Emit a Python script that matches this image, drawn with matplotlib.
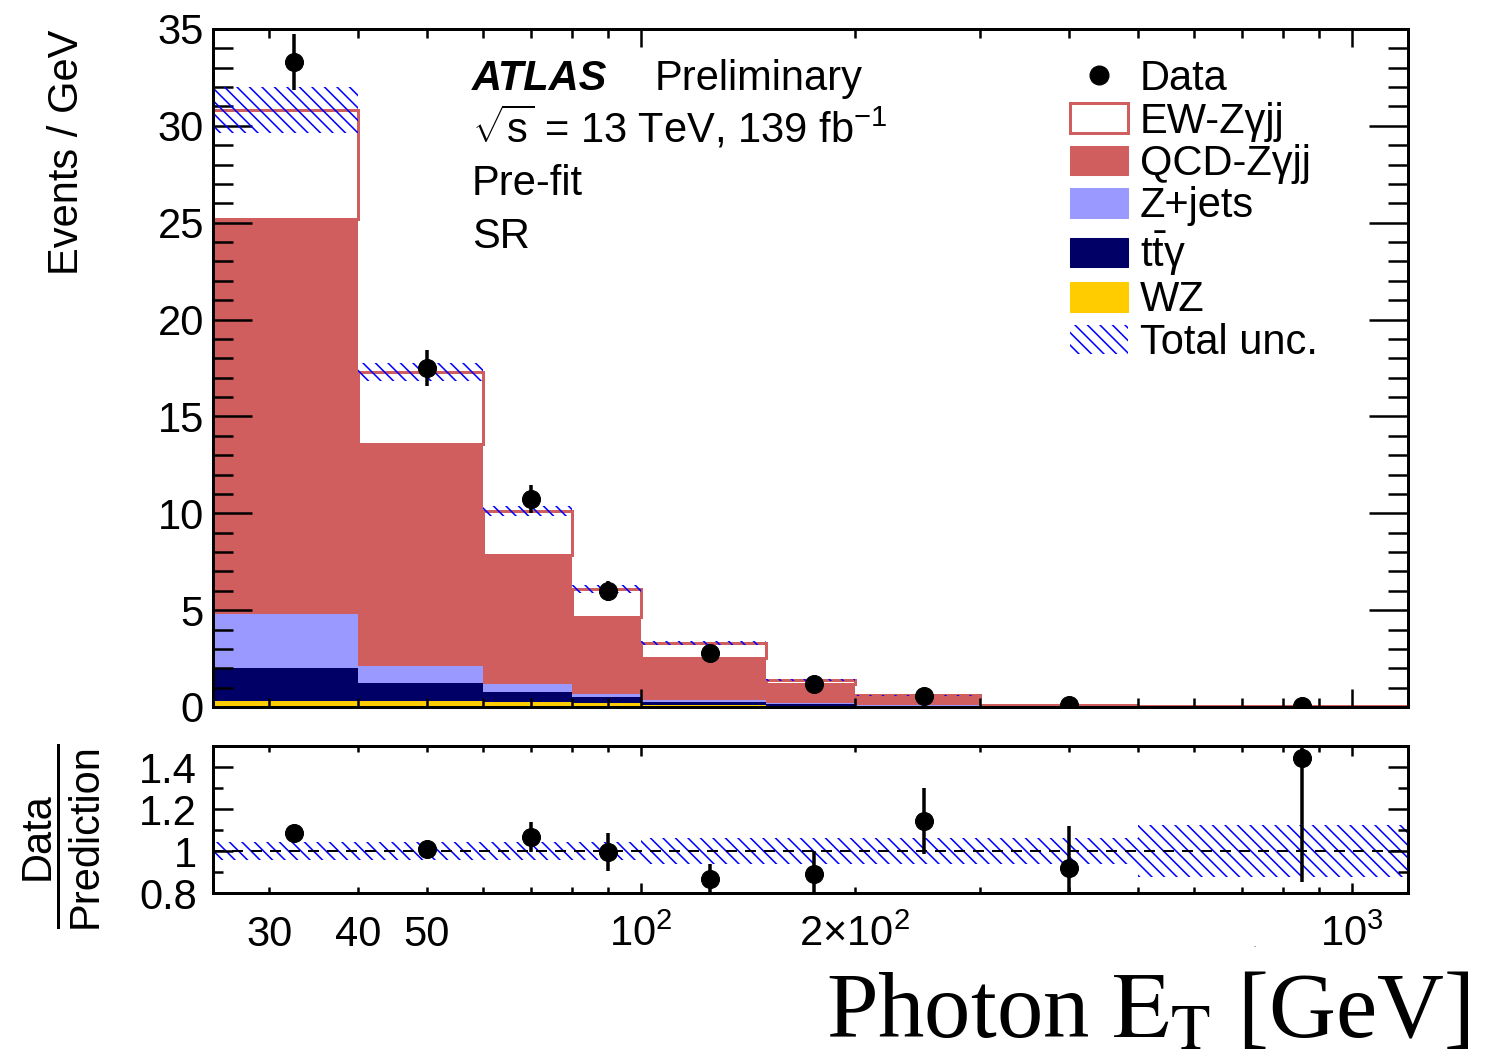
import numpy as np
import matplotlib
matplotlib.use('Agg')
import matplotlib.pyplot as plt
import matplotlib.ticker as mticker
from matplotlib.patches import Patch
from matplotlib.lines import Line2D

plt.rcParams['font.family'] = ['Liberation Sans', 'DejaVu Sans']
plt.rcParams['mathtext.fontset'] = 'custom'
plt.rcParams['mathtext.rm'] = 'Liberation Sans'
plt.rcParams['mathtext.it'] = 'Liberation Sans:italic'
plt.rcParams['mathtext.bf'] = 'Liberation Sans:bold'
plt.rcParams['hatch.linewidth'] = 1.5

DPI = 75
W, H = 1495, 1059


def px(v):
    # pixel -> points at this dpi
    return v * 72.0 / DPI


# ---- data ----
edges = [25, 40, 60, 80, 100, 150, 200, 300, 500, 1200]
bin_x = [32.5, 50, 70, 90, 125, 175, 250, 400, 850]

wz = [0.30, 0.30, 0.25, 0.20, 0.12, 0.06, 0.03, 0.010, 0.003]
ttgamma = [1.72, 0.96, 0.51, 0.30, 0.16, 0.10, 0.04, 0.010, 0.003]
zjets = [2.80, 0.84, 0.45, 0.19, 0.10, 0.05, 0.02, 0.005, 0.002]
qcd = [20.37, 11.50, 6.63, 3.96, 2.15, 1.00, 0.41, 0.055, 0.017]
ew = [5.63, 3.69, 2.26, 1.46, 0.77, 0.20, 0.10, 0.020, 0.005]
total_unc = [1.20, 0.45, 0.26, 0.20, 0.12, 0.06, 0.03, 0.006, 0.004]

data = [33.3, 17.5, 10.73, 5.98, 2.79, 1.19, 0.55, 0.09, 0.03]
data_err = [1.45, 0.92, 0.72, 0.50, 0.24, 0.15, 0.07, 0.02, 0.007]

ratio = [1.085, 1.01, 1.067, 0.995, 0.865, 0.892, 1.143, 0.919, 1.444]
ratio_err = [0.04, 0.035, 0.07, 0.09, 0.075, 0.11, 0.155, 0.20, 0.59]
ratio_unc = [0.044, 0.044, 0.044, 0.044, 0.06, 0.06, 0.06, 0.06, 0.125]

xtick_pos = [30, 40, 50, 100, 200, 1000]
xtick_labels = ['30', '40', '50', r'$10^{2}$', r'$2{\times}10^{2}$', r'$10^{3}$']

red = '#d05e5e'
colors = {'WZ': '#ffcc00', 'tty': '#000066', 'zjets': '#9999ff', 'qcd': red}

FS = 40
HATCH = '\\\\'

fig = plt.figure(figsize=(W / DPI, H / DPI), dpi=DPI)
ax = fig.add_axes([213 / W, 1 - 707 / H, 1195 / W, 678 / H])
rax = fig.add_axes([213 / W, 1 - 893 / H, 1195 / W, 147 / H])

left = np.array(edges[:-1], dtype=float)
width = np.diff(edges)

# stacked backgrounds
bottom = np.zeros(len(left))
for vals, c in [(wz, colors['WZ']), (ttgamma, colors['tty']), (zjets, colors['zjets']), (qcd, colors['qcd'])]:
    ax.bar(left, vals, width=width, bottom=bottom, align='edge', color=c, lw=0, zorder=1)
    bottom = bottom + np.array(vals)
ax.bar(left, ew, width=width, bottom=bottom, align='edge', facecolor='white', edgecolor=red,
       lw=px(3), zorder=1.5)
total = bottom + np.array(ew)

# total uncertainty
unc = np.array(total_unc)
ax.bar(left, 2 * unc, width=width, bottom=total - unc, align='edge', facecolor='none',
       edgecolor='blue', hatch=HATCH, lw=0, zorder=2)

ax.errorbar(bin_x, data, yerr=data_err, fmt='o', color='k', ms=px(18), elinewidth=px(3.5),
            capsize=0, zorder=3)

# ratio panel
runc = np.array(ratio_unc)
rax.bar(left, 2 * runc, width=width, bottom=1 - runc, align='edge', facecolor='none',
        edgecolor='blue', hatch=HATCH, lw=0, zorder=1)
rax.axhline(1, color='k', lw=px(2), ls=(0, (5.5, 4)), zorder=2)
rax.errorbar(bin_x, ratio, yerr=ratio_err, fmt='o', color='k', ms=px(18), elinewidth=px(3.5),
             capsize=0, zorder=3)

# axes styling
for a in (ax, rax):
    a.set_xscale('log')
    a.set_xlim(25, 1200)
    a.xaxis.set_major_locator(mticker.FixedLocator([100, 1000]))
    a.xaxis.set_minor_locator(mticker.FixedLocator([30, 40, 50, 60, 70, 80, 90,
                                                    200, 300, 400, 500, 600, 700, 800, 900]))
    a.xaxis.set_major_formatter(mticker.NullFormatter())
    a.xaxis.set_minor_formatter(mticker.NullFormatter())
    for s in a.spines.values():
        s.set_linewidth(px(3))

ax.set_ylim(0, 35)
ax.yaxis.set_major_locator(mticker.MultipleLocator(5))
ax.yaxis.set_minor_locator(mticker.MultipleLocator(1))
ax.tick_params(axis='y', which='major', direction='in', length=px(39), width=px(2.5),
               labelsize=FS, pad=px(9), left=True, right=True)
ax.tick_params(axis='y', which='minor', direction='in', length=px(20), width=px(2.5), left=True, right=True)
ax.tick_params(axis='x', which='major', direction='in', length=px(18), width=px(2.5), top=True, bottom=True)
ax.tick_params(axis='x', which='minor', direction='in', length=px(9), width=px(2.5), top=True, bottom=True)

rax.set_ylim(0.8, 1.5)
rax.yaxis.set_major_locator(mticker.FixedLocator([0.8, 1.0, 1.2, 1.4]))
rax.yaxis.set_minor_locator(mticker.FixedLocator([0.9, 1.1, 1.3]))
rax.yaxis.set_major_formatter(mticker.FuncFormatter(lambda v, p: '%g' % v))
rax.tick_params(axis='y', which='major', direction='in', length=px(20), width=px(2.5),
                labelsize=FS, pad=px(16), left=True, right=True)
rax.tick_params(axis='y', which='minor', direction='in', length=px(10), width=px(2.5), left=True, right=True)
rax.tick_params(axis='x', which='major', direction='in', length=px(10), width=px(2.5), top=True, bottom=True)
rax.tick_params(axis='x', which='minor', direction='in', length=px(6), width=px(2.5), top=True, bottom=True)

for xp, lab in zip(xtick_pos, xtick_labels):
    rax.text(xp, -(946 - 893) / 147, lab, transform=rax.get_xaxis_transform(), fontsize=FS,
             ha='center', va='baseline')

# labels
fig.text(67 / W, 1 - 30 / H, 'Events / GeV', rotation=90, fontsize=FS, ha='center', va='top')
fig.text(38 / W, 1 - 836 / H, 'Data', rotation=90, fontsize=FS, ha='center', va='center')
fig.text(86 / W, 1 - 836 / H, 'Prediction', rotation=90, fontsize=FS, ha='center', va='center')
fig.add_artist(Line2D([58 / W, 58 / W], [1 - 745 / H, 1 - 927 / H], color='k', lw=px(3),
                      transform=fig.transFigure))
fig.text(1469 / W, 1 - 1037 / H, r'Photon $\mathrm{E_{T}}$ [GeV]', family='Liberation Serif',
         math_fontfamily='stix', fontsize=89, ha='right', va='baseline')
fig.text(1255 / W, 1 - 947 / H, '..', fontsize=6, ha='center', va='baseline')

# ATLAS label block
fig.text(472 / W, 1 - 90 / H, 'ATLAS', fontsize=FS, fontweight='bold', style='italic', va='baseline')
fig.text(655 / W, 1 - 90 / H, 'Preliminary', fontsize=FS, va='baseline')
fig.text(472 / W, 1 - 142 / H, r'$\sqrt{\mathrm{s}}$ = 13 TeV, 139 fb$^{\mathrm{-1}}$', fontsize=FS,
         va='baseline')
fig.text(472 / W, 1 - 195 / H, 'Pre-fit', fontsize=FS, va='baseline')
fig.text(472 / W, 1 - 248 / H, 'SR', fontsize=FS, va='baseline')

# legend
handles = [
    Line2D([], [], marker='o', ls='none', color='k', markersize=px(19)),
    Patch(facecolor='white', edgecolor=red, linewidth=px(3)),
    Patch(facecolor=red, edgecolor=red),
    Patch(facecolor=colors['zjets'], edgecolor=colors['zjets']),
    Patch(facecolor=colors['tty'], edgecolor=colors['tty']),
    Patch(facecolor=colors['WZ'], edgecolor=colors['WZ']),
    Patch(facecolor='none', edgecolor='blue', hatch=HATCH, linewidth=0),
]
labels = ['Data', 'EW-Zγjj', 'QCD-Zγjj', 'Z+jets', r'$\mathrm{t\bar{t}\gamma}$', 'WZ', 'Total unc.']
ax.legend(handles, labels, loc='upper left', bbox_to_anchor=(1070 / W, 1 - 59 / H),
          bbox_transform=fig.transFigure, frameon=False, fontsize=FS, borderpad=0,
          borderaxespad=0, handlelength=1.39, handleheight=0.72, handletextpad=0.29,
          labelspacing=0.06)

fig.savefig('out.png', dpi=DPI)
